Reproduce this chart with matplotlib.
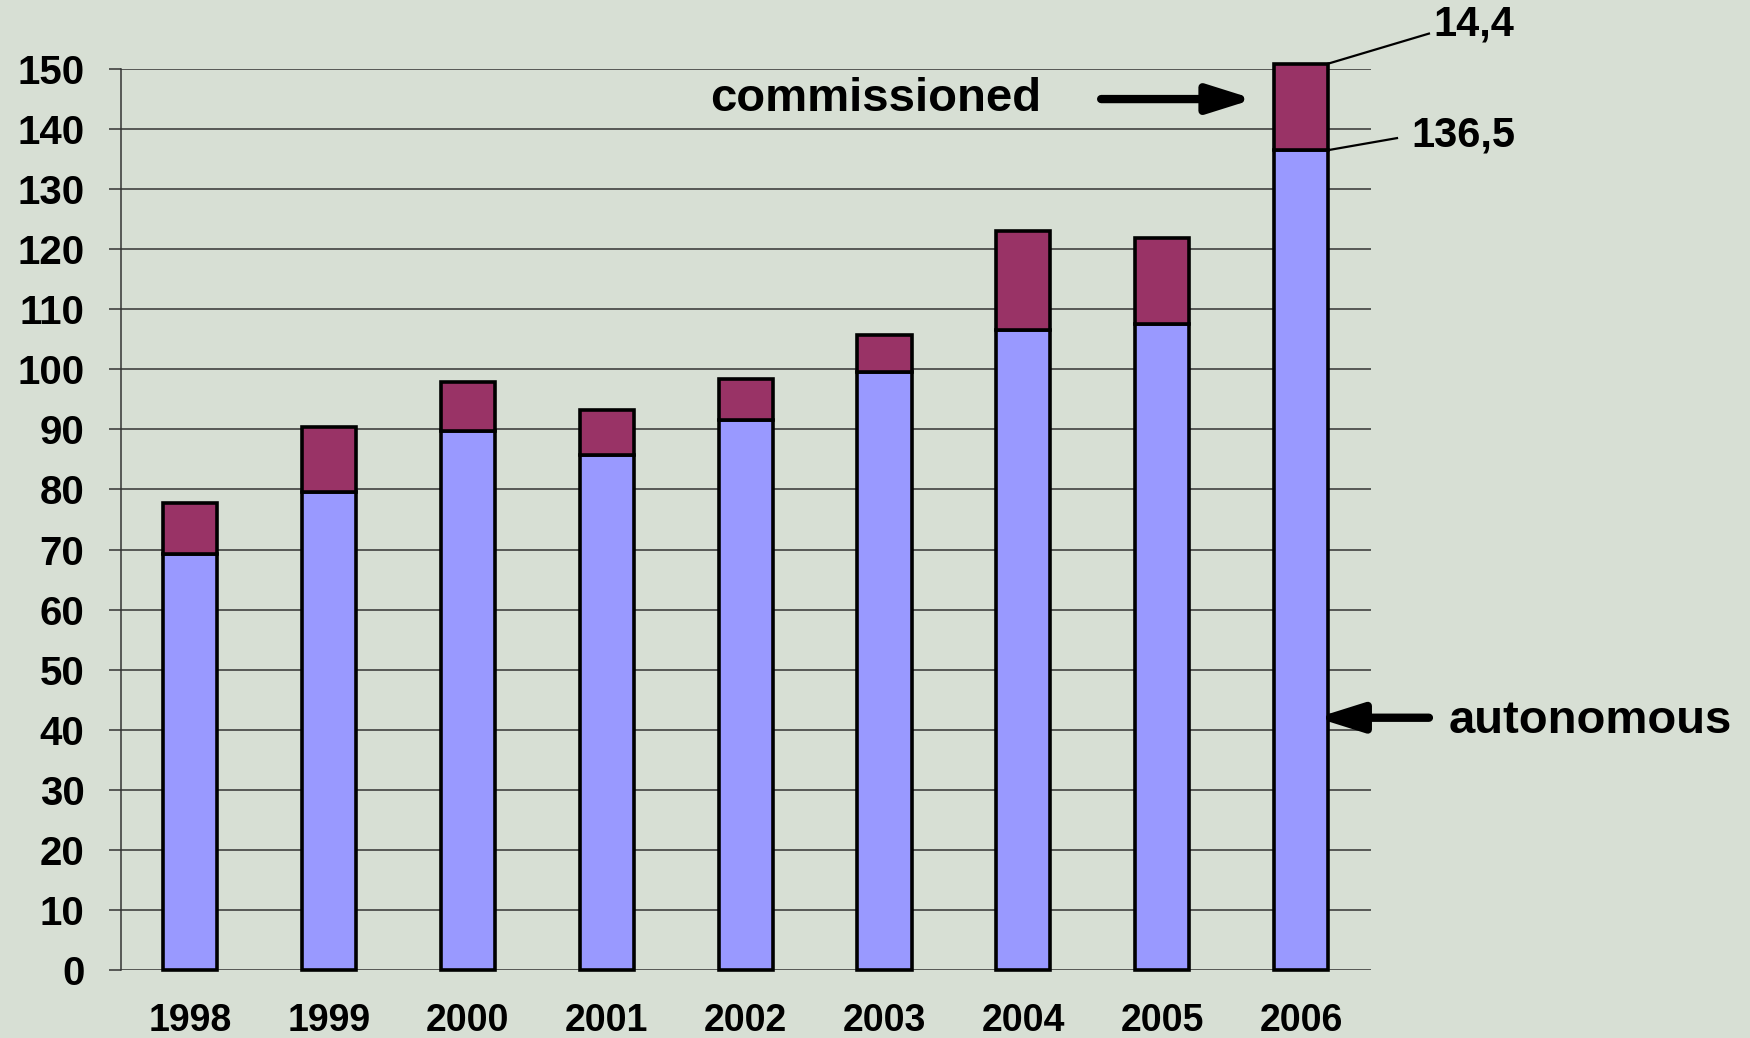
import matplotlib
matplotlib.use("Agg")
import matplotlib.pyplot as plt
import numpy as np

# Data
years = ["1998", "1999", "2000", "2001", "2002", "2003", "2004", "2005", "2006"]
autonomous = [69.2, 79.5, 89.7, 85.8, 91.5, 99.6, 106.5, 107.5, 136.5]
commissioned = [8.6, 10.9, 8.2, 7.5, 6.9, 6.2, 16.5, 14.4, 14.4]
y_ticks = list(range(0, 151, 10))

bg = "#d7dfd4"
plt.rcParams["font.family"] = ["Liberation Sans", "DejaVu Sans"]
plt.rcParams["font.weight"] = "bold"

fig = plt.figure(figsize=(17.5, 10.38), dpi=100, facecolor=bg)
ax = fig.add_axes([0.0689, 0.0655, 0.7143, 0.8680])
ax.set_facecolor(bg)

x = np.arange(len(years))
w = 0.39

ax.bar(x, autonomous, width=w, color="#9999ff", edgecolor="black",
       linewidth=2.6, zorder=3, clip_on=False)
ax.bar(x, commissioned, width=w, bottom=autonomous, color="#993366",
       edgecolor="black", linewidth=2.6, zorder=3, clip_on=False)

# Axes
ax.set_xlim(-0.5, 8.5)
ax.set_ylim(0, 150)
ax.set_yticks(y_ticks)
ax.set_xticks(x)
ax.set_xticklabels(years)
ax.yaxis.grid(True, color="#333333", linewidth=1.1, zorder=0)
ax.set_axisbelow(True)
for s in ["top", "right", "bottom"]:
    ax.spines[s].set_visible(False)
ax.spines["left"].set_color("#333333")
ax.spines["left"].set_linewidth(1.1)
ax.tick_params(axis="y", length=9, width=1.1, color="#333333", pad=17,
               labelsize=29)
ax.tick_params(axis="x", length=0, pad=24, labelsize=27)
for lab in ax.get_xticklabels() + ax.get_yticklabels():
    lab.set_fontweight("bold")

# Value labels for 2006
last = len(years) - 1
total = autonomous[last] + commissioned[last]
ax.plot([last + w / 2, 8.92], [total, 155.9], color="black", lw=1.6,
        clip_on=False, zorder=4)
ax.text(8.95, 157.4, f"{commissioned[last]:.1f}".replace(".", ","),
        fontsize=30, fontweight="bold", ha="left", va="center")
ax.plot([last + w / 2, 8.69], [autonomous[last], 138.5], color="black",
        lw=1.6, clip_on=False, zorder=4)
ax.text(8.79, 138.9, f"{autonomous[last]:.1f}".replace(".", ","),
        fontsize=30, fontweight="bold", ha="left", va="center")

# Series labels with arrows
arrow = dict(arrowstyle="-|>,head_length=2.7,head_width=0.85", lw=6,
             color="black", shrinkA=0, shrinkB=0)
ax.text(4.94, 145.0, "commissioned", fontsize=34, fontweight="bold",
        ha="center", va="center")
ax.annotate("", xy=(7.66, 145.0), xytext=(6.56, 145.0),
            arrowprops=arrow, annotation_clip=False)
ax.text(9.06, 41.5, "autonomous", fontsize=34, fontweight="bold",
        ha="left", va="center")
ax.annotate("", xy=(8.11, 42.0), xytext=(8.92, 42.0),
            arrowprops=arrow, annotation_clip=False)

fig.savefig("out.png", dpi=100, facecolor=bg)
